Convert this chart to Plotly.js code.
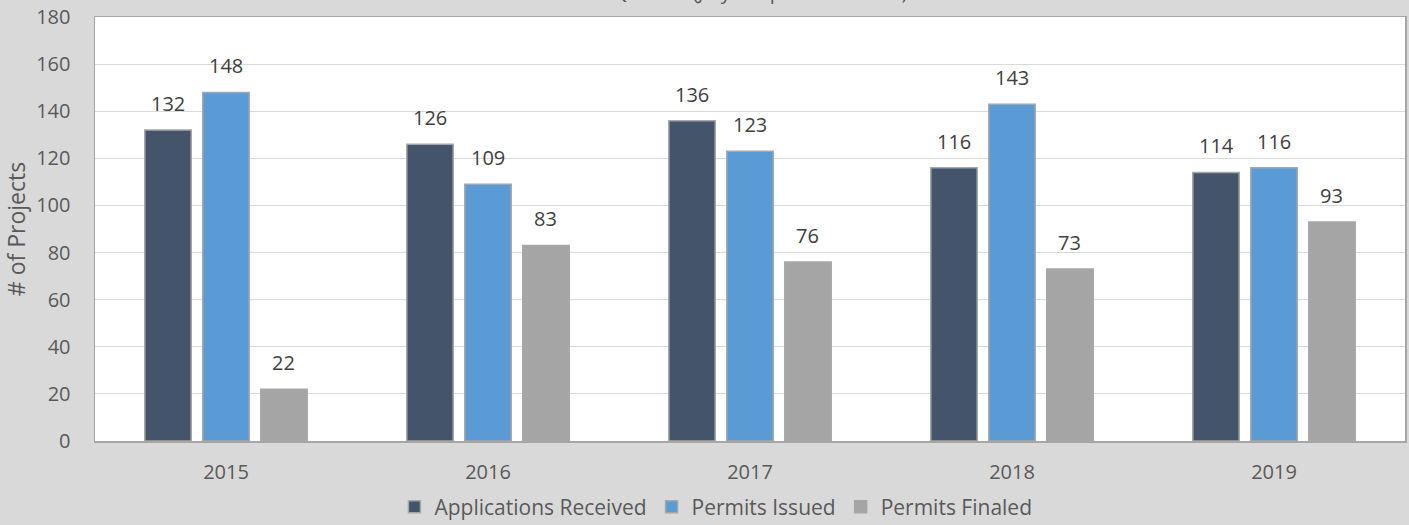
<!DOCTYPE html>
<html>
<head>
<meta charset="utf-8">
<script src="https://cdn.plot.ly/plotly-3.0.1.min.js"></script>
<style>html,body{margin:0;padding:0;background:#d9d9d9;}#chart{width:1409px;height:525px;}</style>
</head>
<body>
<div id="chart"></div>
<script>
const years = ['2015', '2016', '2017', '2018', '2019'];
const applicationsReceived = [132, 126, 136, 116, 114];
const permitsIssued = [148, 109, 123, 143, 116];
const permitsFinaled = [22, 83, 76, 73, 93];
const seriesNames = ['Applications Received', 'Permits Issued', 'Permits Finaled'];
const yTicks = [0, 20, 40, 60, 80, 100, 120, 140, 160, 180];
const chartTitle = '1st Quarter (July - September 2019)';
const yTitle = '# of Projects';

const FONT = '"Open Sans", sans-serif';
const colors = ['#44546a', '#5b9bd5', '#a5a5a5'];
const allSeries = [applicationsReceived, permitsIssued, permitsFinaled];
const BARGAP = 0.336;
const nSeries = allSeries.length;

const traces = allSeries.map((vals, i) => ({
  type: 'bar',
  name: seriesNames[i],
  x: years,
  y: vals,
  marker: {color: colors[i], line: {color: '#a6a6a6', width: 1.5}},
  hoverinfo: 'x+y+name'
}));

// data labels placed through the axis scales (category index + group offset)
const annotations = [];
allSeries.forEach((vals, i) => {
  const off = (i - (nSeries - 1) / 2) * (1 - BARGAP) / nSeries;
  vals.forEach((v, j) => {
    annotations.push({
      x: j + off, y: v, xref: 'x', yref: 'y',
      text: String(v), showarrow: false,
      yanchor: 'bottom', yshift: 11,
      font: {family: FONT, size: 20, color: '#404040'}
    });
  });
});

// chart title, mostly above the top edge as in the reference
annotations.push({
  x: 0.495, xref: 'paper', y: 1, yref: 'paper', yanchor: 'bottom', yshift: 10,
  text: chartTitle, showarrow: false,
  font: {family: FONT, size: 20, color: '#595959'}
});

const layout = {
  width: 1409, height: 525,
  paper_bgcolor: '#d9d9d9',
  plot_bgcolor: '#ffffff',
  margin: {l: 95, r: 4, t: 17, b: 84},
  font: {family: FONT, size: 20, color: '#595959'},
  barmode: 'group',
  bargap: BARGAP,
  bargroupgap: 0.2,
  annotations: annotations,
  xaxis: {
    type: 'category',
    showline: true, mirror: true, linecolor: '#a6a6a6', linewidth: 1.5,
    showgrid: false, ticks: '', ticklabelstandoff: 12,
    tickfont: {family: FONT, size: 20, color: '#595959'}
  },
  yaxis: {
    range: [0, 180], tickvals: yTicks, ticktext: yTicks.map(String),
    showline: true, mirror: true, linecolor: '#a6a6a6', linewidth: 1.5,
    gridcolor: '#d9d9d9', gridwidth: 1, zeroline: false, ticks: '',
    ticklabelstandoff: 19,
    tickfont: {family: FONT, size: 20, color: '#595959'},
    title: {text: yTitle, font: {family: FONT, size: 23, color: '#595959'}, standoff: 10}
  },
  legend: {
    orientation: 'h', x: 0.474, xanchor: 'center',
    yref: 'container', y: 0.034, yanchor: 'middle',
    font: {family: FONT, size: 21, color: '#595959'},
    bgcolor: 'rgba(0,0,0,0)', itemwidth: 30, tracegroupgap: 0
  },
  showlegend: true
};

Plotly.newPlot('chart', traces, layout, {displayModeBar: false, staticPlot: true});
</script>
</body>
</html>
